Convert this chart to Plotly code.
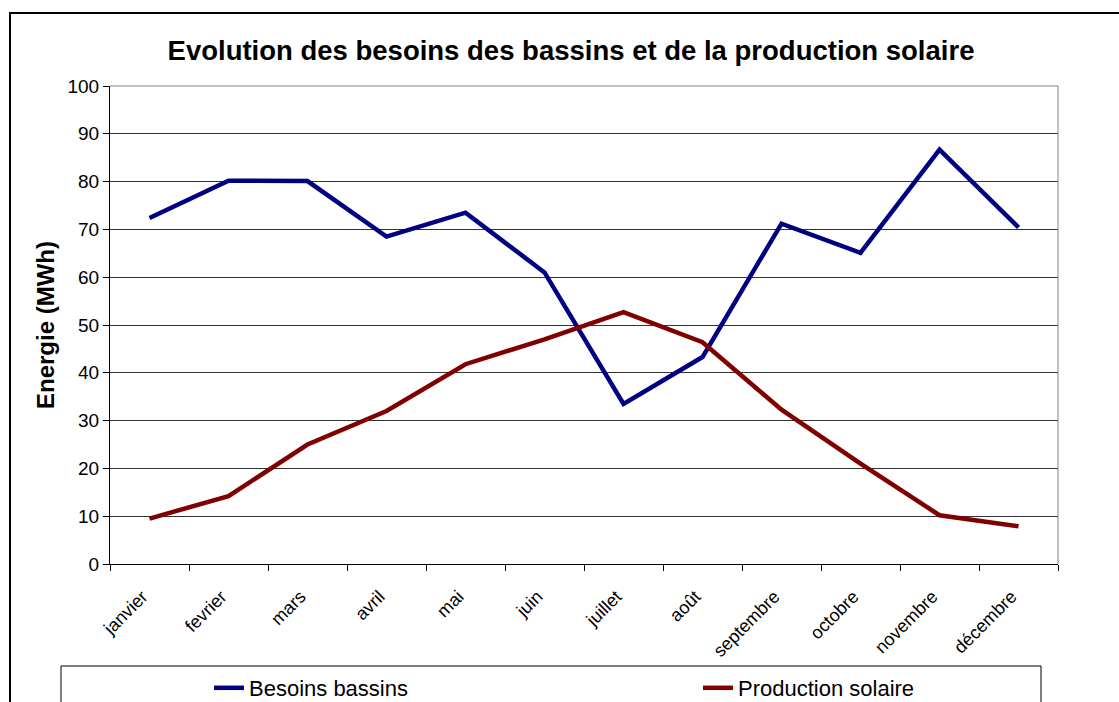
import plotly.graph_objects as go

months = ["janvier", "fevrier", "mars", "avril", "mai", "juin", "juillet",
          "août", "septembre", "octobre", "novembre", "décembre"]
besoins = [72.4, 80.2, 80.1, 68.5, 73.5, 61.0, 33.5, 43.3, 71.2, 65.1, 86.7, 70.4]
production = [9.5, 14.2, 25.0, 32.0, 41.8, 47.0, 52.7, 46.4, 32.3, 21.0, 10.2, 7.9]
y_ticks = [0, 10, 20, 30, 40, 50, 60, 70, 80, 90, 100]

FONT = "Liberation Sans, Arial, sans-serif"
W, H = 1119, 702
L, R, T, B = 110, 61, 86, 138
pw, ph = W - L - R, H - T - B


def px(x):
    return (x - L) / pw


def py(y):
    return (H - B - y) / ph


fig = go.Figure()
fig.add_trace(go.Scatter(x=months, y=besoins, mode="lines", name="Besoins bassins",
                         line=dict(color="#000080", width=4.5), legend="legend"))
fig.add_trace(go.Scatter(x=months, y=production, mode="lines", name="Production solaire",
                         line=dict(color="#800000", width=4.5), legend="legend2"))

shapes = [
    # outer frame
    dict(type="rect", xref="paper", yref="paper", x0=px(10), x1=px(1135), y0=py(720), y1=py(13),
         line=dict(color="black", width=2), layer="below"),
    # legend box
    dict(type="rect", xref="paper", yref="paper", x0=px(61), x1=px(1041), y0=py(730), y1=py(666),
         line=dict(color="black", width=1), layer="below"),
    # plot area top/right border
    dict(type="line", xref="paper", yref="paper", x0=0, x1=1, y0=1, y1=1,
         line=dict(color="#808080", width=1)),
    dict(type="line", xref="paper", yref="paper", x0=1, x1=1, y0=0, y1=1,
         line=dict(color="#808080", width=1)),
]

leg_common = dict(orientation="h", xanchor="left", yanchor="middle", y=py(688),
                  font=dict(size=22, family=FONT, color="black"),
                  bgcolor="rgba(0,0,0,0)", borderwidth=0)

fig.update_layout(
    width=W, height=H,
    margin=dict(l=L, r=R, t=T, b=B, autoexpand=False),
    paper_bgcolor="white", plot_bgcolor="white",
    font=dict(family=FONT, color="black"),
    title=dict(text="<b>Evolution des besoins des bassins et de la production solaire</b>",
               xref="container", x=571 / W, xanchor="center", y=1 - 50 / H, yanchor="middle",
               font=dict(size=27.5, family=FONT, color="black")),
    shapes=shapes,
    showlegend=True,
    legend=dict(x=px(209), **leg_common),
    legend2=dict(x=px(698), **leg_common),
)

fig.update_xaxes(
    type="category", tickson="boundaries", ticks="outside", ticklen=6, tickcolor="black",
    showline=True, linecolor="black", linewidth=1, showgrid=False,
    tickangle=-45, tickfont=dict(size=18, family=FONT, color="black"),
    ticklabelstandoff=14, ticklabelshift=-7,
    range=[-0.5, 11.5],
)
fig.update_yaxes(
    range=[0, 100], tickvals=y_ticks, ticks="outside", ticklen=6, tickcolor="black",
    showline=True, linecolor="black", linewidth=1,
    showgrid=True, gridcolor="#333333", gridwidth=1, zeroline=False,
    tickfont=dict(size=19, family=FONT, color="black"),
    title=dict(text="<b>Energie (MWh)</b>", font=dict(size=24, family=FONT, color="black"),
               standoff=6),
)

fig.write_html("out.html", config={"displayModeBar": False},
               post_script="document.body.style.margin='0';")
